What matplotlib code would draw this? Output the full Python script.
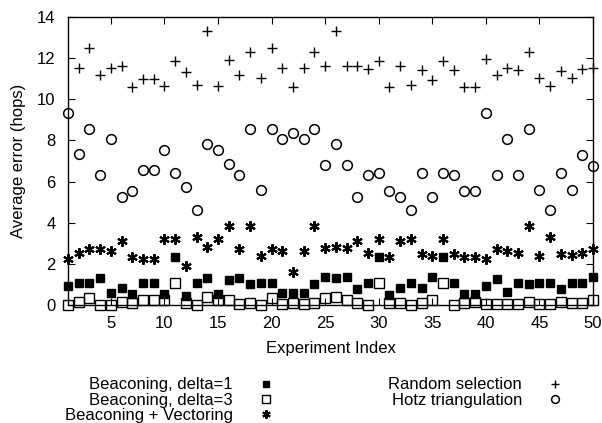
import numpy as np
import matplotlib
matplotlib.use('Agg')
import matplotlib.pyplot as plt

plt.rcParams['font.family'] = ['Liberation Sans', 'DejaVu Sans']

idx = np.arange(1, 51)

delta1 = [0.9, 1.09, 1.09, 1.3, 0.6, 0.81, 0.52, 1.09, 1.09, 0.52,
          2.31, 0.44, 1.09, 1.3, 0.52, 1.22, 1.3, 1.0, 1.09, 1.09,
          0.6, 0.6, 0.6, 1.0, 1.38, 1.33, 1.38, 0.76, 1.09, 2.32,
          0.49, 0.81, 1.09, 0.81, 1.38, 2.31, 1.09, 0.52, 0.52, 0.9,
          1.27, 0.62, 1.09, 1.0, 1.09, 1.09, 0.8, 1.09, 1.09, 1.38]

delta3 = [0.0, 0.16, 0.36, 0.0, 0.0, 0.16, 0.1, 0.24, 0.24, 0.24,
          1.09, 0.1, 0.0, 0.41, 0.24, 0.24, 0.03, 0.1, 0.0, 0.36,
          0.03, 0.1, 0.03, 0.1, 0.36, 0.41, 0.24, 0.1, 0.0, 1.09,
          0.1, 0.1, 0.0, 0.1, 0.24, 1.09, 0.0, 0.1, 0.16, 0.03,
          0.03, 0.03, 0.03, 0.16, 0.03, 0.03, 0.16, 0.08, 0.08, 0.24]

vectoring = [2.23, 2.52, 2.72, 2.72, 2.63, 3.12, 2.31, 2.23, 2.23, 3.2,
             3.2, 1.9, 3.3, 2.8, 3.2, 3.82, 2.72, 3.82, 2.39, 2.72,
             2.63, 1.58, 2.63, 3.82, 2.76, 2.8, 2.76, 3.12, 2.52, 3.2,
             2.31, 3.12, 3.2, 2.47, 2.39, 3.2, 2.47, 2.31, 2.31, 2.23,
             2.72, 2.63, 2.52, 3.82, 2.39, 3.28, 2.5, 2.45, 2.52, 2.72]

random_sel = [np.nan, 11.5, 12.47, 11.2, 11.5, 11.6, 10.6, 11.0, 11.0, 10.65,
              11.84, 11.3, 10.7, 13.3, 10.65, 11.9, 11.2, 12.3, 11.05, 12.47,
              11.5, 10.57, 11.5, 12.3, 11.6, 13.3, 11.6, 11.6, 11.46, 11.87,
              10.57, 11.6, 10.7, 11.4, 10.93, 11.84, 11.43, 10.57, 10.57, 11.95,
              11.17, 11.5, 11.43, 12.3, 11.05, 10.65, 11.35, 11.02, 11.46, 11.54]

hotz = [9.35, 7.35, 8.57, 6.34, 8.05, 5.24, 5.53, 6.54, 6.54, 7.53,
        6.42, 5.72, 4.63, 7.84, 7.51, 6.83, 6.31, 8.57, 5.61, 8.57,
        8.05, 8.34, 8.05, 8.57, 6.8, 7.84, 6.8, 5.24, 6.34, 6.42,
        5.53, 5.24, 4.6, 6.42, 5.24, 6.42, 6.31, 5.53, 5.53, 9.32,
        6.31, 8.05, 6.31, 8.54, 5.61, 4.6, 6.4, 5.6, 7.27, 6.75]

fig = plt.figure(figsize=(6.02, 4.23), dpi=100)
ax = fig.add_axes([0.113, 0.279, 0.872, 0.681])

star = (6, 2, 0)
h1, = ax.plot(idx, delta1, 's', color='black', ms=6.2, clip_on=False)
h2, = ax.plot(idx, delta3, 's', mfc='none', mec='black', mew=1.0, ms=6.5, clip_on=False)
h3, = ax.plot(idx, vectoring, marker=star, ls='none', color='black', mew=1.5, ms=7.5, clip_on=False)
h4, = ax.plot(idx, random_sel, '+', color='black', mew=1.0, ms=7, clip_on=False)
h5, = ax.plot(idx, hotz, 'o', mfc='none', mec='black', mew=1.1, ms=7, clip_on=False)

ax.set_xlim(1, 50)
ax.set_ylim(0, 14)
ax.set_xticks(np.arange(5, 51, 5))
ax.set_yticks(np.arange(0, 15, 2))
ax.tick_params(direction='in', top=True, right=True, length=5, width=0.8, labelsize=12)
ax.tick_params(axis='x', pad=8)
ax.tick_params(axis='y', pad=9)
for s in ax.spines.values():
    s.set_linewidth(1.0)

ax.set_xlabel('Experiment Index', fontsize=12, labelpad=7)
ax.set_ylabel('Average error (hops)', fontsize=12, labelpad=8)

# gnuplot-style key: labels right-aligned, marker after the text
kw = dict(markerfirst=False, frameon=False, fontsize=12, handlelength=1.0,
          handletextpad=1.5, labelspacing=0.02, borderpad=0, markerscale=0.8)
leg1 = fig.legend([h1, h2, h3],
                  ['Beaconing, delta=1', 'Beaconing, delta=3', 'Beaconing + Vectoring'],
                  loc='upper right', bbox_to_anchor=(283 / 602, 1 - 369 / 423), **kw)
leg2 = fig.legend([h4, h5], ['Random selection', 'Hotz triangulation'],
                  loc='upper right', bbox_to_anchor=(572 / 602, 1 - 369 / 423), **kw)

fig.savefig('out.png', dpi=100)
